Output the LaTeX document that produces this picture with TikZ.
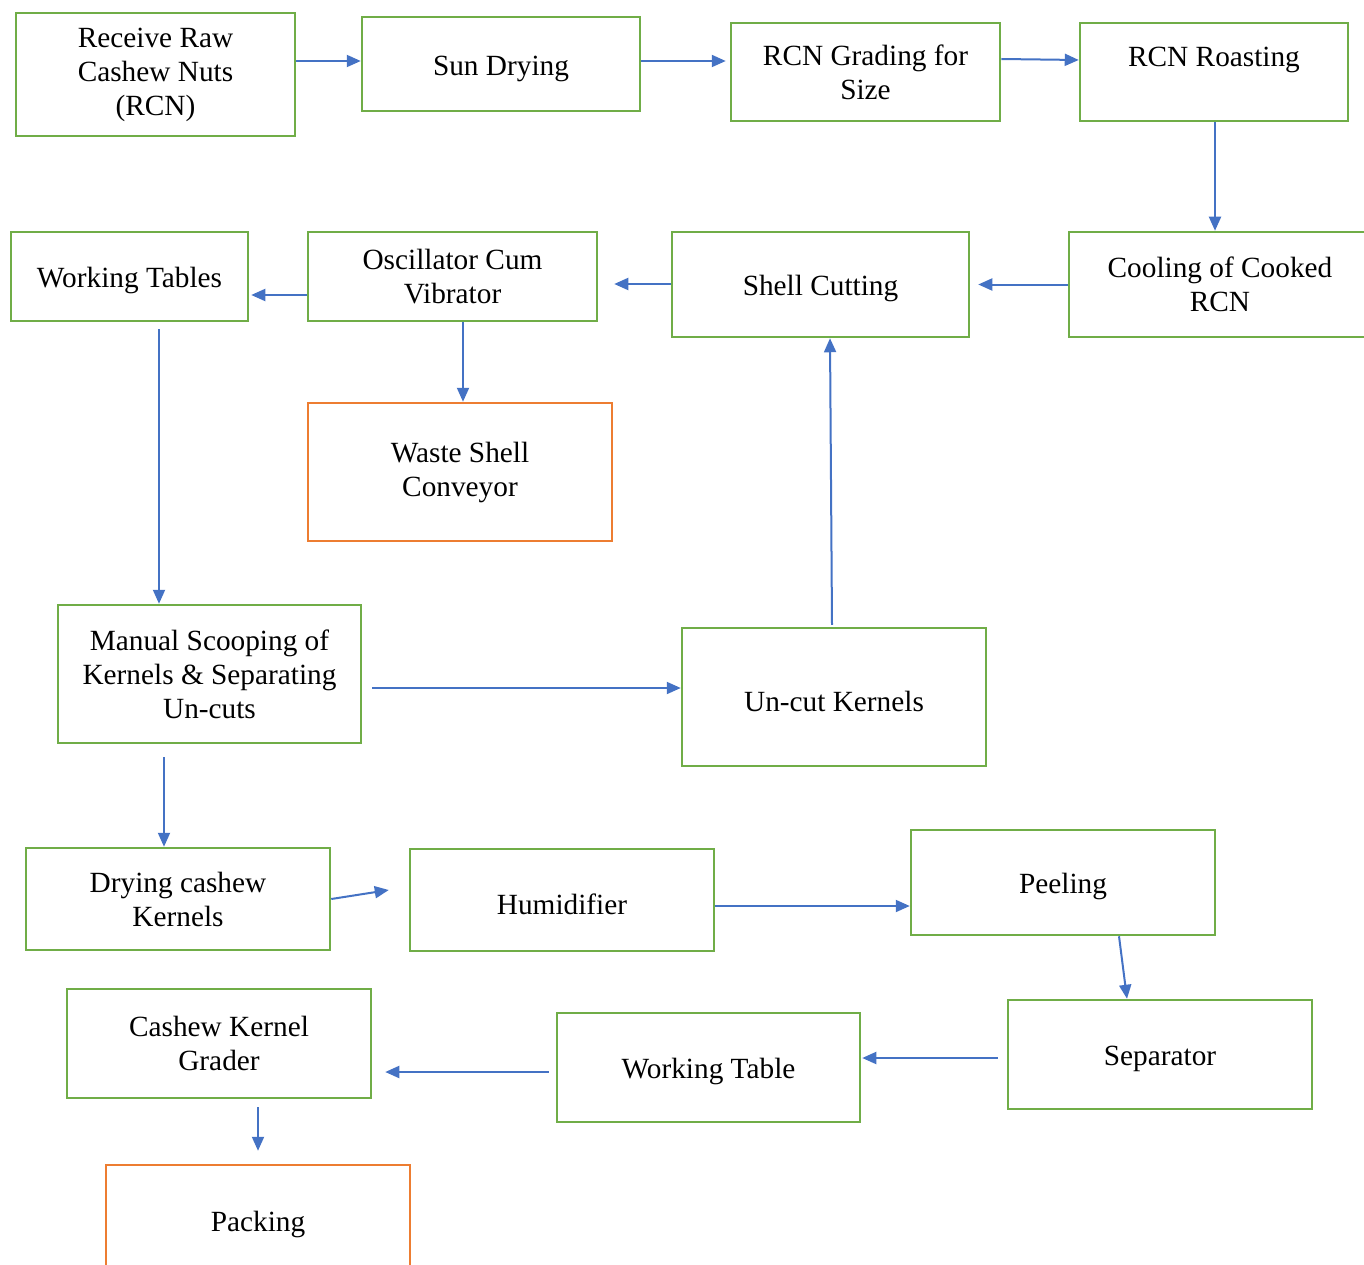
\documentclass[tikz,border=0pt]{standalone}
\usepackage{fontspec}
\setmainfont{Liberation Serif}
\usetikzlibrary{arrows.meta,calc}
\definecolor{bgreen}{RGB}{112,173,71}
\definecolor{borange}{RGB}{237,125,49}
\definecolor{ablue}{RGB}{68,114,196}
\begin{document}
\begin{tikzpicture}[x=1pt,y=-1pt,
  box/.style={draw=bgreen, line width=2.5pt, rectangle, align=center, inner sep=0pt,
    font=\fontsize{29.3}{34}\selectfont, execute at begin node={\rule{0pt}{29pt}}},
  obox/.style={box, draw=borange},
  arr/.style={draw=ablue, line width=2pt, -{Triangle[length=14pt,width=12pt]}}]
\useasboundingbox (0,0) rectangle (1364,1265);
\clip (0,0) rectangle (1364,1265);

\node[box, minimum width=279, minimum height=123] (rec) at (155.5,74.5) {Receive Raw\\Cashew Nuts\\(RCN)};
\node[box, minimum width=278, minimum height=94] (sun) at (501,64) {Sun Drying};
\node[box, minimum width=269, minimum height=98] (grade) at (865.5,72) {RCN Grading for\\Size};
\node[box, minimum width=268, minimum height=98, text depth=40pt] (roast) at (1214,72) {RCN Roasting};
\node[box, minimum width=302, minimum height=105] (cool) at (1220,284.5) {Cooling of Cooked\\RCN};
\node[box, minimum width=297, minimum height=105] (shell) at (820.5,284.5) {Shell Cutting};
\node[box, minimum width=289, minimum height=89] (osc) at (452.5,276.5) {Oscillator Cum\\Vibrator};
\node[box, minimum width=237, minimum height=89] (wt) at (129.5,276.5) {Working Tables};
\node[obox, minimum width=304, minimum height=138] (waste) at (460,472) {Waste Shell\\Conveyor};
\node[box, minimum width=303, minimum height=138] (manual) at (209.5,674) {Manual Scooping of\\Kernels \& Separating\\Un-cuts};
\node[box, minimum width=304, minimum height=138] (uncut) at (834,697) {Un-cut Kernels};
\node[box, minimum width=304, minimum height=102] (dry) at (178,899) {Drying cashew\\Kernels};
\node[box, minimum width=304, minimum height=102] (hum) at (562,900) {Humidifier};
\node[box, minimum width=304, minimum height=105] (peel) at (1063,882.5) {Peeling};
\node[box, minimum width=304, minimum height=109] (sep) at (1160,1054.5) {Separator};
\node[box, minimum width=303, minimum height=109] (wtab) at (708.5,1067.5) {Working Table};
\node[box, minimum width=304, minimum height=109] (grader) at (219,1043.5) {Cashew Kernel\\Grader};
\node[obox, minimum width=304, minimum height=110] (pack) at (258,1220) {Packing};

\draw[arr] ($(rec.east)+(0,-13.5)$) -- ($(sun.west)+(0,-3)$);
\draw[arr, shorten >=4pt] ($(sun.east)+(0,-3)$) -- ($(grade.west)+(0,-11)$);
\draw[arr] ($(grade.east)+(0,-13)$) -- ($(roast.west)+(0,-12)$);
\draw[arr] ($(roast.south)+(1,0)$) -- ($(cool.north)+(-5,0)$);
\draw[arr, shorten >=8pt] (cool.west) -- (shell.east);
\draw[arr, shorten >=16pt] ($(shell.west)+(0,-0.5)$) -- ($(osc.east)+(0,7.5)$);
\draw[arr, shorten >=2pt] ($(osc.west)+(0,18.5)$) -- ($(wt.east)+(0,18.5)$);
\draw[arr] ($(osc.south)+(10.5,0)$) -- ($(waste.north)+(3,0)$);
\draw[arr] ($(wt.south)+(29.5,7)$) -- ($(manual.north)+(-50.5,0)$);
\draw[arr] ($(manual.east)+(10,14)$) -- ($(uncut.west)+(0,-9)$);
\draw[arr] ($(uncut.north)+(-2,-2)$) -- ($(shell.south)+(9.5,0)$);
\draw[arr] ($(manual.south)+(-45.5,13)$) -- ($(dry.north)+(-14,0)$);
\draw[arr] (dry.east) -- ($(hum.west)+(-20,-10)$);
\draw[arr] ($(hum.east)+(0,6)$) -- ($(peel.west)+(0,23.5)$);
\draw[arr] ($(peel.south)+(56,0)$) -- ($(sep.north)+(-33,0)$);
\draw[arr] ($(sep.west)+(-9,3.5)$) -- ($(wtab.east)+(1,-9.5)$);
\draw[arr] ($(wtab.west)+(-7,4.5)$) -- ($(grader.east)+(13,28.5)$);
\draw[arr] ($(grader.south)+(39,8)$) -- ($(pack.north)+(0,-13)$);
\end{tikzpicture}
\end{document}
